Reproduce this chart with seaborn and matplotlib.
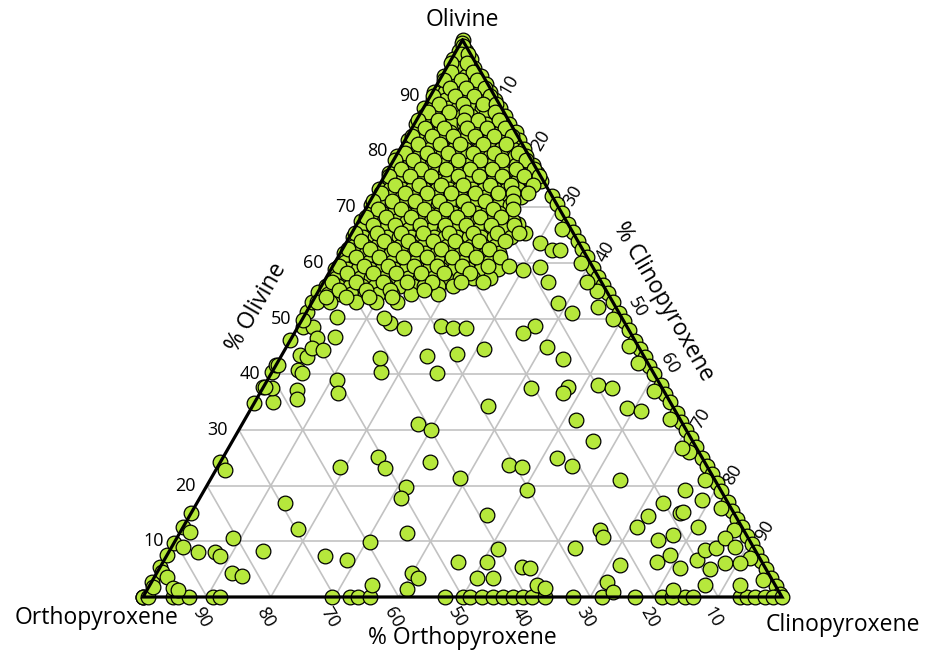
import numpy as np
import pandas as pd
import matplotlib
matplotlib.use("Agg")
import matplotlib.pyplot as plt
import seaborn as sns

# ---------------------------------------------------------------------------
# Modal compositions (vol %): olivine, clinopyroxene; orthopyroxene = remainder
# ---------------------------------------------------------------------------

# Samples lying on the olivine-orthopyroxene join (cpx = 0)
left_edge_ol = [100, 0, 0, 2.7, 5.4, 7.5, 9.7, 12.6, 15.1, 24.2, 34.8, 37.7,
                40.4, 41.7, 46.1, 51.2, 53.0, 54.8]

# Samples lying on the olivine-clinopyroxene join (opx = 0)
right_edge_ol = [72, 70.5, 69, 67, 65.5, 64, 62.5, 61, 59, 57.5, 56, 54.5, 53,
                 51, 49.5, 48, 46, 44.5, 43, 41.5, 40, 38, 36.5, 35, 33, 31.5,
                 30, 28.5, 27, 25, 23.5, 22, 20.5, 19, 17, 15.5, 14, 12.5, 11,
                 9.5, 8, 6.5, 5, 3.5, 2, 0.5]

# Samples just off the olivine-clinopyroxene join (opx ~ 1.5)
near_right_ol = [66, 60, 55, 50, 45, 42, 37, 32, 26, 21, 16, 12, 7, 3]

# Olivine-free samples (ol = 0), given as cpx
bottom_cpx = [0, 0.8, 4.7, 5.5, 7.2, 11, 12, 29.6, 32.4, 33.6, 35.5, 47.3, 50.1,
              51.2, 53.1, 54.8, 56.3, 57.9, 59.5, 60.9, 62.9, 67.3, 71.8, 77,
              81.2, 82.8, 84.8, 86.1, 93.4, 94.5, 95.8, 97.3, 98.6, 100]

# Scattered websterites, lherzolites and wehrlites
scatter_ol = [2.2, 1.4, 4.3, 3.4, 6.3, 6.3, 3.4, 3.4, 5.4, 5.2, 2.2, 1.6, 2.7,
              0.9, 1.3, 5.7, 6.3, 7.5, 5.2, 6.6, 2.2, 5.0, 6.1, 6.1, 2.2, 8.4,
              8.8, 10.6, 9.0, 10.2, 11.1, 12.6, 12.6, 14.5, 15.1, 16.9, 19.2,
              17.4, 12.0, 10.8, 21.0,
              16.9, 12.2, 10.6, 8.3, 8.1, 8.1, 7.4, 4.3, 3.8, 7.4, 6.6, 9.9,
              11.7, 9.0, 4.5, 3.6, 1.8, 1.6, 1.3,
              35.0, 37.5, 37.7, 41.7, 43.4, 43.1, 40.8, 40.2, 37.2, 35.5, 48.5,
              48.5, 46.5, 44.7, 44.3, 49.7, 56.0, 54.8, 50.3, 46.7, 39.0, 36.6,
              63.6, 62.3, 62.3, 59.2, 58.7, 56.6, 56.6, 52.8, 51.0, 52.1, 48.7,
              47.4, 44.9, 42.7, 37.5, 37.7, 36.6, 38.1, 37.5, 65.4, 67.0,
              26.8, 15.3,
              48.7, 48.3, 48.3, 44.5, 43.6, 43.3, 40.2, 40.4, 42.9, 49.2, 48.3,
              31.1, 30.0, 34.3, 23.3, 25.1, 23.2, 24.2, 21.4, 19.7, 17.8, 23.7,
              23.3, 25.0, 23.5, 19.2, 14.7, 11.5, 8.6, 8.8, 28.0, 33.9, 33.4,
              31.8, 22.8, 50.1]
scatter_cpx = [34.7, 40.6, 39.9, 41.3, 46.1, 50.7, 50.6, 53.1, 56.6, 58.0, 60.6,
               62.1, 71.3, 73.1, 82.3, 71.8, 77.3, 78.7, 81.4, 83.4, 86.8, 86.2,
               88.0, 90.4, 92.3, 83.7, 85.3, 85.8, 88.1, 75.5, 77.4, 80.6, 71.0,
               71.8, 76.5, 72.9, 75.2, 78.8, 65.5, 66.6, 64.1,
               13.8, 18.2, 8.8, 14.6, 4.6, 7.2, 8.4, 11.8, 13.6, 24.8, 28.6,
               30.6, 1.5, 1.8, 0.7, 2.0, 0.7, 3.9, 4.8,
               2.8, 1.4, 0.3, 0.3, 2.9, 4.1, 3.9, 4.8, 5.5, 6.4, 0.8, 2.4, 4.0,
               4.1, 6.0, 0.2, 1.7, 1.9, 5.2, 6.7, 10.9, 12.2,
               30.3, 32.9, 34.1, 32.5, 30.1, 35.1, 41.2, 38.5, 41.6, 45.2, 37.0,
               35.8, 40.8, 44.4, 41.9, 47.7, 47.4, 52.2, 54.7, 27.1, 25.2,
               70.9, 76.9,
               22.3, 24.4, 26.4, 31.1, 27.3, 22.8, 25.9, 17.0, 15.6, 14.1, 16.7,
               27.5, 30.1, 36.8, 19.2, 24.2, 26.3, 32.8, 38.9, 31.3, 31.5, 45.4,
               47.6, 52.3, 55.4, 50.5, 46.5, 35.6, 51.3, 63.2, 56.4, 58.8, 61.2,
               51.9, 1.4, 12.7]

# Dunite-harzburgite-lherzolite population: olivine level of each row and
# the clinopyroxene contents found at that level
cluster_ol = [99.5, 98.0, 96.6, 95.0, 93.6, 92.1, 90.7, 89.2, 87.8, 86.3, 84.9,
              83.4, 82.0, 80.5, 79.1, 77.6, 76.2, 74.7, 73.3, 71.8, 70.4, 68.9,
              67.5, 66.0, 64.6, 63.1, 61.7, 60.2, 58.8, 57.3, 55.9, 54.4, 53.0,
              98.9, 97.4, 95.9, 94.3, 92.8, 91.3, 89.9, 88.5, 87.1, 85.6, 84.2,
              82.7, 81.3, 79.8, 78.4, 76.9, 75.5, 74.0, 72.6, 71.1, 69.7, 68.2,
              66.8, 65.3, 63.9, 62.4, 61.0, 59.5, 58.1, 56.6, 55.2, 53.8]
cluster_cpx = [
    [0.1],
    [0.4, 1.5],
    [0.2, 1.3, 3.0],
    [0.9, 2.2, 4.3],
    [0.3, 1.6, 3.7, 5.2, 6.1],
    [1.1, 2.9, 4.4, 6.6, 7.6],
    [0.2, 1.9, 3.4, 5.8, 7.2, 8.9],
    [0.8, 2.6, 4.9, 6.3, 8.3, 10.5],
    [0.1, 1.5, 3.8, 5.4, 7.5, 9.1, 10.9, 12.0],
    [0.9, 2.7, 4.4, 6.7, 8.2, 10.3, 12.4, 13.5],
    [0.3, 2.0, 3.5, 5.9, 7.8, 9.4, 11.2, 13.3, 14.9],
    [1.2, 2.9, 4.8, 6.4, 8.7, 10.4, 12.0, 14.2, 15.8, 16.6],
    [0.4, 2.2, 3.9, 5.5, 7.6, 9.3, 11.5, 13.1, 15.0, 16.9, 17.9],
    [1.0, 2.8, 4.7, 6.9, 8.4, 10.2, 12.4, 14.0, 15.7, 17.6, 19.3],
    [0.2, 1.8, 3.6, 5.6, 7.3, 9.5, 11.1, 13.0, 14.8, 16.5, 18.6, 20.4],
    [1.1, 2.9, 4.4, 6.5, 8.2, 10.0, 12.1, 13.9, 15.6, 17.4, 19.5, 21.1, 22.2],
    [0.4, 2.1, 3.7, 5.6, 7.7, 9.2, 11.0, 13.2, 14.7, 16.6, 18.4, 20.2, 22.5,
     23.6],
    [1.3, 3.1, 4.7, 6.5, 8.6, 10.3, 12.0, 13.8, 15.9, 17.5, 19.3, 21.2, 23.4,
     25.0],
    [0.3, 2.0, 3.9, 5.5, 7.4, 9.4, 11.2, 12.8, 14.9, 16.7, 18.4, 20.3, 22.0],
    [1.2, 2.8, 4.6, 6.6, 8.3, 10.1, 12.2, 13.9, 15.7, 17.6, 19.5, 21.4, 23.3],
    [0.5, 2.2, 3.8, 5.7, 7.5, 9.3, 11.0, 13.1, 14.8, 16.5, 18.6, 20.4, 22.3],
    [1.4, 3.0, 4.8, 6.6, 8.5, 10.2, 12.0, 14.0, 15.8, 17.6, 19.4, 21.3],
    [0.4, 2.3, 3.9, 5.8, 7.6, 9.4, 11.3, 13.0, 14.9, 16.7, 18.5, 20.5, 22.4,
     24.2],
    [1.3, 3.1, 4.9, 6.7, 8.6, 10.4, 12.2, 14.1, 15.9, 17.8, 19.6, 21.5, 23.5],
    [0.5, 2.2, 4.0, 5.9, 7.7, 9.6, 11.4, 13.2, 15.0, 16.9, 18.7, 20.6, 22.6,
     25.3],
    [1.4, 3.2, 5.0, 6.8, 8.7, 10.5, 12.3, 14.2, 16.0, 17.8, 19.8, 21.7, 23.6],
    [0.6, 2.4, 4.1, 6.0, 7.9, 9.7, 11.6, 13.3, 15.2, 17.1, 18.9, 20.8, 22.8,
     24.9],
    [1.5, 3.3, 5.2, 7.0, 8.8, 10.7, 12.5, 14.4, 16.2, 18.1, 20.0, 22.0, 24.1],
    [0.7, 2.5, 4.3, 6.2, 8.0, 9.9, 11.7, 13.6, 15.4, 17.3, 19.3, 21.4, 23.5,
     26.2],
    [1.6, 3.4, 5.3, 7.1, 9.0, 10.9, 12.8, 14.7, 16.7, 18.8, 20.9, 23.0, 25.6],
    [0.7, 2.6, 4.4, 6.3, 8.3, 10.1, 12.2, 14.3, 16.0, 18.2, 20.6],
    [1.7, 3.6, 5.4, 7.6, 9.5, 11.8, 14.7, 19.0],
    [0.8, 2.8, 6.8, 9.9, 13.2],
    [0.6],
    [1.0, 2.2],
    [0.3, 2.8],
    [1.1, 4.5],
    [0.7, 3.3, 5.9],
    [2.4, 4.9, 7.8],
    [0.5, 3.9, 6.8, 9.4],
    [2.0, 5.8, 8.9, 11.0],
    [1.0, 4.4, 7.0, 11.5],
    [0.3, 3.3, 7.4, 9.6, 12.9],
    [2.1, 5.0, 8.6, 11.8, 14.6],
    [0.7, 3.8, 7.1, 10.6, 13.6, 16.4],
    [2.4, 5.9, 9.0, 12.6, 16.2],
    [1.1, 4.5, 7.9, 11.8, 15.1, 18.8],
    [0.3, 3.0, 6.3, 10.1, 13.5, 17.0, 20.7],
    [2.0, 5.1, 8.9, 12.8, 16.2, 19.9, 22.8],
    [0.8, 4.0, 7.3, 11.5, 14.8, 18.5, 21.9, 24.3],
    [2.5, 6.2, 9.7, 13.1, 17.3, 20.6, 24.0],
    [1.0, 4.7, 8.1, 11.9, 15.6, 19.2, 21.6, 23.9],
    [0.4, 3.4, 7.0, 10.8, 14.6, 18.0, 22.4],
    [2.0, 5.6, 9.2, 12.5, 16.0, 19.9, 23.1],
    [0.8, 4.0, 7.9, 11.4, 15.1, 18.7, 22.0],
    [2.6, 6.1, 9.9, 13.8, 17.2, 21.0, 24.6],
    [0.5, 3.9, 7.7, 11.2, 15.3, 19.0, 22.7, 26.2],
    [2.1, 5.8, 9.5, 13.4, 16.9, 20.6, 24.7],
    [0.9, 4.3, 8.1, 11.6, 15.4, 19.3, 23.0],
    [2.8, 6.4, 10.2, 14.0, 17.9, 21.6, 25.4],
    [1.0, 4.8, 8.6, 12.6, 16.3, 20.1, 24.3, 27.6],
    [2.9, 6.9, 10.5, 14.5, 18.1, 22.2],
    [1.2, 5.1, 9.3, 13.0, 17.0, 21.5, 24.9],
    [3.0, 7.3, 11.1, 16.3],
    [1.8, 4.9, 8.4, 12.0],
]

tick_values = [10, 20, 30, 40, 50, 60, 70, 80, 90]

# ---------------------------------------------------------------------------
# Assemble the table
# ---------------------------------------------------------------------------
ol = list(left_edge_ol) + list(right_edge_ol) + list(near_right_ol) \
    + [0.0] * len(bottom_cpx) + list(scatter_ol)
cpx = [0.0] * len(left_edge_ol) + [100 - v for v in right_edge_ol] \
    + [100 - v - 1.5 for v in near_right_ol] + list(bottom_cpx) + list(scatter_cpx)
for lvl, row in zip(cluster_ol, cluster_cpx):
    for c in row:
        ol.append(lvl)
        cpx.append(min(c, 100 - lvl))

df = pd.DataFrame({"Olivine": ol, "Clinopyroxene": cpx})
df["Orthopyroxene"] = 100 - df["Olivine"] - df["Clinopyroxene"]

SQ3 = np.sqrt(3) / 2


def tern(o, c):
    """Olivine apex on top, Opx bottom-left, Cpx bottom-right."""
    o = np.asarray(o, dtype=float) / 100
    c = np.asarray(c, dtype=float) / 100
    return c + o / 2, o * SQ3


df["x"], df["y"] = tern(df["Olivine"], df["Clinopyroxene"])

# ---------------------------------------------------------------------------
# Figure
# ---------------------------------------------------------------------------
sns.set_style("white")
plt.rcParams["font.family"] = ["Open Sans", "DejaVu Sans"]
plt.rcParams["text.color"] = "black"

W, H = 933, 655
fig = plt.figure(figsize=(W / 100, H / 100), dpi=100)
ax = fig.add_axes([0, 0, 1, 1])
X0, Y0, SIDE, HGT = 143, 597, 639, 557   # triangle placement in the canvas
ax.set_xlim(-X0 / SIDE, (W - X0) / SIDE)
ax.set_ylim(-(H - Y0) * SQ3 / HGT, Y0 * SQ3 / HGT)
ax.axis("off")


def off(px, py):
    """Offset in canvas pixels -> data units."""
    return px / SIDE, -py * SQ3 / HGT


def at(px, py):
    """Canvas pixel position -> data units."""
    return (px - X0) / SIDE, (Y0 - py) * SQ3 / HGT


# grid
grid_kw = dict(color="#c2c2c2", lw=1.2, zorder=1)
for v in tick_values:
    a = tern([v, v], [0, 100 - v])
    ax.plot(a[0], a[1], **grid_kw)          # constant olivine
    b = tern([0, 100 - v], [v, v])
    ax.plot(b[0], b[1], **grid_kw)          # constant clinopyroxene
    c = tern([0, 100 - v], [100 - v, 0])
    ax.plot(c[0], c[1], **grid_kw)          # constant orthopyroxene

sns.scatterplot(data=df, x="x", y="y", ax=ax, s=112, color="#b6e83c",
                edgecolor="black", linewidth=0.9, legend=False, zorder=3)

# triangle outline
tx, ty = tern([100, 0, 0, 100], [0, 0, 100, 0])
ax.plot(tx, ty, color="black", lw=2.3, zorder=4, solid_joinstyle="miter")

tick_fs = 13
for v in tick_values:
    # olivine ticks on the left side
    x, y = tern(v, 0)
    dx, dy = off(-11, 0)
    ax.text(x + dx, y + dy, str(v), ha="right", va="center", fontsize=tick_fs,
            color="black")
    # clinopyroxene ticks on the right side
    x, y = tern(100 - v, v)
    dx, dy = off(15, -11)
    rot = -60 if v in (50, 60) else 60
    ax.text(x + dx, y + dy, str(v), ha="center", va="center", fontsize=tick_fs,
            rotation=rot, rotation_mode="anchor", color="black")
    # orthopyroxene ticks along the base
    x, y = tern(0, 100 - v)
    dx, dy = off(-5, 20)
    ax.text(x + dx, y + dy, str(v), ha="center", va="center", fontsize=tick_fs,
            rotation=-60, rotation_mode="anchor", color="black")

title_fs = 16.5
title_kw = dict(ha="center", va="center", fontsize=title_fs, color="black")
ax.text(*at(462, 20), "Olivine", **title_kw)
ax.text(*at(97, 618), "Orthopyroxene", **title_kw)
ax.text(*at(843, 625), "Clinopyroxene", **title_kw)
ax.text(*at(462, 638), "% Orthopyroxene", **title_kw)
ax.text(*at(256, 307), "% Olivine", rotation=60, rotation_mode="anchor",
        **title_kw)
ax.text(*at(663, 302), "% Clinopyroxene", rotation=-60, rotation_mode="anchor",
        **title_kw)

fig.savefig("out.png", dpi=100, facecolor="white")
